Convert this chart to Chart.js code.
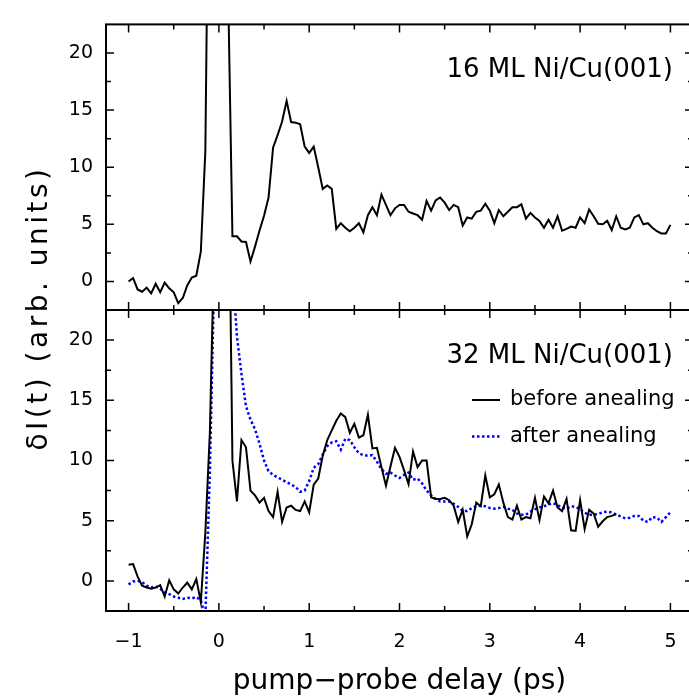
<!DOCTYPE html>
<html>
<head>
<meta charset="utf-8">
<script src="https://cdn.jsdelivr.net/npm/chart.js@4.4.1/dist/chart.umd.min.js"></script>
<style>
html, body { margin: 0; padding: 0; background: #fff; overflow: hidden; }
#wrap { position: relative; width: 689px; height: 696px; overflow: hidden; }
canvas { position: absolute; left: 0; top: 0; }
</style>
</head>
<body>
<div id="wrap">
<canvas id="top-panel" width="700" height="696"></canvas>
<canvas id="bottom-panel" width="700" height="696"></canvas>
</div>
<script>
// pump-probe delay (ps), one sample every 0.05 ps
const delay = [
  -1.00, -0.95, -0.90, -0.85, -0.80, -0.75, -0.70, -0.65, -0.60, -0.55,
  -0.50, -0.45, -0.40, -0.35, -0.30, -0.25, -0.20, -0.15, -0.10, -0.05,
  0.00, 0.05, 0.10, 0.15, 0.20, 0.25, 0.30, 0.35, 0.40, 0.45,
  0.50, 0.55, 0.60, 0.65, 0.70, 0.75, 0.80, 0.85, 0.90, 0.95,
  1.00, 1.05, 1.10, 1.15, 1.20, 1.25, 1.30, 1.35, 1.40, 1.45,
  1.50, 1.55, 1.60, 1.65, 1.70, 1.75, 1.80, 1.85, 1.90, 1.95,
  2.00, 2.05, 2.10, 2.15, 2.20, 2.25, 2.30, 2.35, 2.40, 2.45,
  2.50, 2.55, 2.60, 2.65, 2.70, 2.75, 2.80, 2.85, 2.90, 2.95,
  3.00, 3.05, 3.10, 3.15, 3.20, 3.25, 3.30, 3.35, 3.40, 3.45,
  3.50, 3.55, 3.60, 3.65, 3.70, 3.75, 3.80, 3.85, 3.90, 3.95,
  4.00, 4.05, 4.10, 4.15, 4.20, 4.25, 4.30, 4.35, 4.40, 4.45,
  4.50, 4.55, 4.60, 4.65, 4.70, 4.75, 4.80, 4.85, 4.90, 4.95,
  5.00
];

// 16 ML Ni/Cu(001)
const ml16 = [
  0.0, 0.3, -0.7, -0.9, -0.55, -1.05, -0.2, -0.95, -0.1, -0.6,
  -0.95, -1.9, -1.45, -0.35, 0.35, 0.5, 2.6, 11.4, 48, 60,
  55, 40, 26.6, 3.95, 3.95, 3.5, 3.45, 1.75, 3.05, 4.45,
  5.75, 7.35, 11.7, 12.8, 14.0, 15.8, 13.95, 13.9, 13.75, 11.8,
  11.25, 11.8, 10.0, 8.1, 8.4, 8.1, 4.6, 5.1, 4.7, 4.4,
  4.7, 5.1, 4.3, 5.8, 6.5, 5.8, 7.6, 6.7, 5.8, 6.4,
  6.7, 6.7, 6.1, 5.95, 5.8, 5.4, 7.05, 6.2, 7.1, 7.35,
  6.9, 6.25, 6.7, 6.5, 4.9, 5.6, 5.5, 6.1, 6.2, 6.8,
  6.2, 5.1, 6.25, 5.7, 6.1, 6.5, 6.5, 6.75, 5.5, 6.0,
  5.6, 5.3, 4.7, 5.4, 4.7, 5.7, 4.45, 4.6, 4.8, 4.7,
  5.6, 5.1, 6.3, 5.7, 5.05, 5.0, 5.3, 4.5, 5.7, 4.7,
  4.55, 4.7, 5.6, 5.8, 5.0, 5.1, 4.7, 4.4, 4.2, 4.2,
  4.95
];

// 32 ML Ni/Cu(001), before anealing (stops at 4.40 ps)
const ml32Before = [
  1.35, 1.4, 0.35, -0.4, -0.55, -0.65, -0.55, -0.35, -1.3, 0.05,
  -0.7, -1.05, -0.55, -0.15, -0.7, 0.15, -1.75, 4.0, 12.3, 28.6,
  50, 45, 40, 10.0, 6.6, 11.7, 11.1, 7.5, 7.1, 6.5,
  6.9, 5.8, 5.3, 7.4, 4.9, 6.1, 6.25, 5.9, 5.8, 6.6,
  5.7, 8.0, 8.5, 10.4, 11.7, 12.5, 13.3, 13.9, 13.6, 12.3,
  13.05, 11.9, 12.1, 13.8, 11.0, 11.05, 9.45, 7.9, 9.5, 11.05,
  10.3, 9.2, 8.05, 10.75, 9.45, 10.0, 10.0, 6.95, 6.8, 6.8,
  6.9, 6.7, 6.25, 4.9, 5.9, 3.7, 4.7, 6.5, 6.2, 8.75,
  6.95, 7.2, 8.0, 6.5, 5.3, 5.1, 6.25, 5.1, 5.3, 5.2,
  6.9, 5.05, 7.0, 6.45, 7.5, 6.1, 5.8, 6.8, 4.2, 4.15,
  6.7, 4.3, 5.9, 5.6, 4.5, 4.95, 5.3, 5.4, 5.55
];

// 32 ML Ni/Cu(001), after anealing
const ml32After = [
  -0.3, -0.05, 0.0, -0.1, -0.4, -0.55, -0.45, -0.65, -0.95, -1.1,
  -1.3, -1.4, -1.5, -1.4, -1.45, -1.35, -1.6, -3.0, 9, 26,
  45, 50, 40, 26, 20.3, 17.2, 14.5, 13.4, 12.6, 11.4,
  10.0, 9.1, 8.8, 8.6, 8.4, 8.2, 8.0, 7.8, 7.4, 7.5,
  8.3, 9.4, 9.7, 10.5, 11.2, 11.5, 11.6, 10.9, 11.8, 11.7,
  11.1, 10.6, 10.45, 10.4, 10.45, 9.9, 9.3, 8.9, 9.0, 8.75,
  8.55, 8.8, 9.0, 8.4, 8.5, 8.1, 7.5, 7.1, 6.8, 6.6,
  6.6, 6.6, 6.4, 6.15, 5.8, 5.8, 6.05, 6.2, 6.25, 6.2,
  6.05, 6.0, 6.05, 6.15, 6.0, 5.9, 5.6, 5.5, 5.5, 5.75,
  5.95, 6.1, 6.2, 6.35, 6.45, 6.3, 6.1, 6.0, 6.2, 6.15,
  5.95, 5.65, 5.5, 5.5, 5.55, 5.7, 5.75, 5.7, 5.5, 5.35,
  5.2, 5.25, 5.4, 5.4, 5.0, 4.9, 5.3, 5.25, 4.9, 5.3,
  5.7
];

const xTicks = [-1, 0, 1, 2, 3, 4, 5];
const xMinorTicks = [-0.5, 0.5, 1.5, 2.5, 3.5, 4.5];
const yTicks = [0, 5, 10, 15, 20];
const yMinorTicks = [2.5, 7.5, 12.5, 17.5];

const FONT = 'DejaVu Sans';

function points(ys) {
  return ys.map((v, i) => ({x: delay[i], y: v}));
}

// frame with inward ticks, panel label, legend
const framePlugin = {
  id: 'frame',
  afterDatasetsDraw(chart, args, opts) {
    const {ctx, chartArea: a} = chart;
    const x = chart.scales.x, y = chart.scales.y;
    ctx.save();
    ctx.strokeStyle = '#000';
    ctx.lineWidth = 2;
    ctx.strokeRect(a.left, a.top, a.right - a.left, a.bottom - a.top);

    ctx.lineWidth = 1.5;
    ctx.beginPath();
    const tx = (v, len) => {
      const p = x.getPixelForValue(v);
      ctx.moveTo(p, a.bottom); ctx.lineTo(p, a.bottom - len);
      ctx.moveTo(p, a.top); ctx.lineTo(p, a.top + len);
    };
    const ty = (v, len) => {
      const p = y.getPixelForValue(v);
      ctx.moveTo(a.left, p); ctx.lineTo(a.left + len, p);
      ctx.moveTo(a.right, p); ctx.lineTo(a.right - len, p);
    };
    xTicks.forEach(v => tx(v, 8));
    xMinorTicks.forEach(v => tx(v, 5));
    yTicks.forEach(v => ty(v, 8));
    yMinorTicks.forEach(v => ty(v, 5));
    ctx.stroke();

    ctx.fillStyle = '#000';
    ctx.font = '26px "' + FONT + '"';
    ctx.textAlign = 'right';
    ctx.textBaseline = 'middle';
    ctx.fillText(opts.title, a.right - 20, a.top + 46);

    if (opts.legend) {
      ctx.font = '21px "' + FONT + '"';
      ctx.textAlign = 'left';
      chart.data.datasets.forEach((ds, i) => {
        const ly = a.top + 90 + i * 36.5;
        ctx.save();
        ctx.strokeStyle = ds.borderColor;
        ctx.lineWidth = ds.borderWidth;
        ctx.setLineDash(ds.borderDash || []);
        ctx.beginPath();
        ctx.moveTo(a.right - 221, ly);
        ctx.lineTo(a.right - 193, ly);
        ctx.stroke();
        ctx.restore();
        ctx.fillText(ds.label, a.right - 183, ly);
      });
    }

    if (opts.yTitle) {
      ctx.save();
      ctx.translate(40, 308);
      ctx.rotate(-Math.PI / 2);
      ctx.font = '28px "' + FONT + '"';
      ctx.letterSpacing = '3.5px';
      ctx.textAlign = 'center';
      ctx.textBaseline = 'middle';
      ctx.fillText(opts.yTitle, 0, 0);
      ctx.restore();
    }
    ctx.restore();
  }
};

function yScale() {
  return {
    type: 'linear',
    min: -2.5,
    max: 22.5,
    afterBuildTicks: s => { s.ticks = yTicks.map(v => ({value: v})); },
    afterFit: s => { s.width = 106; },
    grid: {display: false, drawTicks: false},
    border: {display: false},
    ticks: {font: {family: FONT, size: 19}, color: '#000', padding: 13}
  };
}

Chart.defaults.color = '#000';

new Chart(document.querySelector('#top-panel'), {
  type: 'line',
  data: {
    datasets: [{
      label: '16 ML Ni/Cu(001)',
      data: points(ml16),
      borderColor: '#000',
      borderWidth: 2,
      pointRadius: 0,
      tension: 0
    }]
  },
  options: {
    responsive: false,
    animation: false,
    devicePixelRatio: 1,
    layout: {padding: {top: 10, right: 7, bottom: 386, left: 0}},
    plugins: {
      legend: {display: false},
      tooltip: {enabled: false},
      frame: {title: '16 ML Ni/Cu(001)'}
    },
    scales: {
      x: {type: 'linear', min: -1.25, max: 5.25, display: false},
      y: yScale()
    }
  },
  plugins: [framePlugin]
});

new Chart(document.querySelector('#bottom-panel'), {
  type: 'line',
  data: {
    datasets: [{
      label: 'before anealing',
      data: points(ml32Before),
      borderColor: '#000',
      borderWidth: 2,
      pointRadius: 0,
      tension: 0
    }, {
      label: 'after anealing',
      data: points(ml32After),
      borderColor: '#0000ff',
      borderWidth: 2.5,
      borderDash: [2.5, 2.5],
      pointRadius: 0,
      tension: 0
    }]
  },
  options: {
    responsive: false,
    animation: false,
    devicePixelRatio: 1,
    layout: {padding: {top: 310, right: 7, bottom: 0, left: 0}},
    plugins: {
      legend: {display: false},
      tooltip: {enabled: false},
      frame: {title: '32 ML Ni/Cu(001)', legend: true, yTitle: '\u03b4I(t) (arb. units)'}
    },
    scales: {
      x: {
        type: 'linear',
        min: -1.25,
        max: 5.25,
        afterBuildTicks: s => { s.ticks = xTicks.map(v => ({value: v})); },
        afterFit: s => { s.height = 85; },
        grid: {display: false, drawTicks: false},
        border: {display: false},
        ticks: {
          font: {family: FONT, size: 19},
          color: '#000',
          padding: 20,
          maxRotation: 0,
          autoSkip: false,
          callback: v => v < 0 ? '\u2212' + Math.abs(v) : String(v)
        },
        title: {
          display: true,
          text: 'pump\u2212probe delay (ps)',
          font: {family: FONT, size: 28, lineHeight: 1},
          color: '#000',
          padding: {top: 0, bottom: 0}
        }
      },
      y: yScale()
    }
  },
  plugins: [framePlugin]
});
</script>
</body>
</html>
